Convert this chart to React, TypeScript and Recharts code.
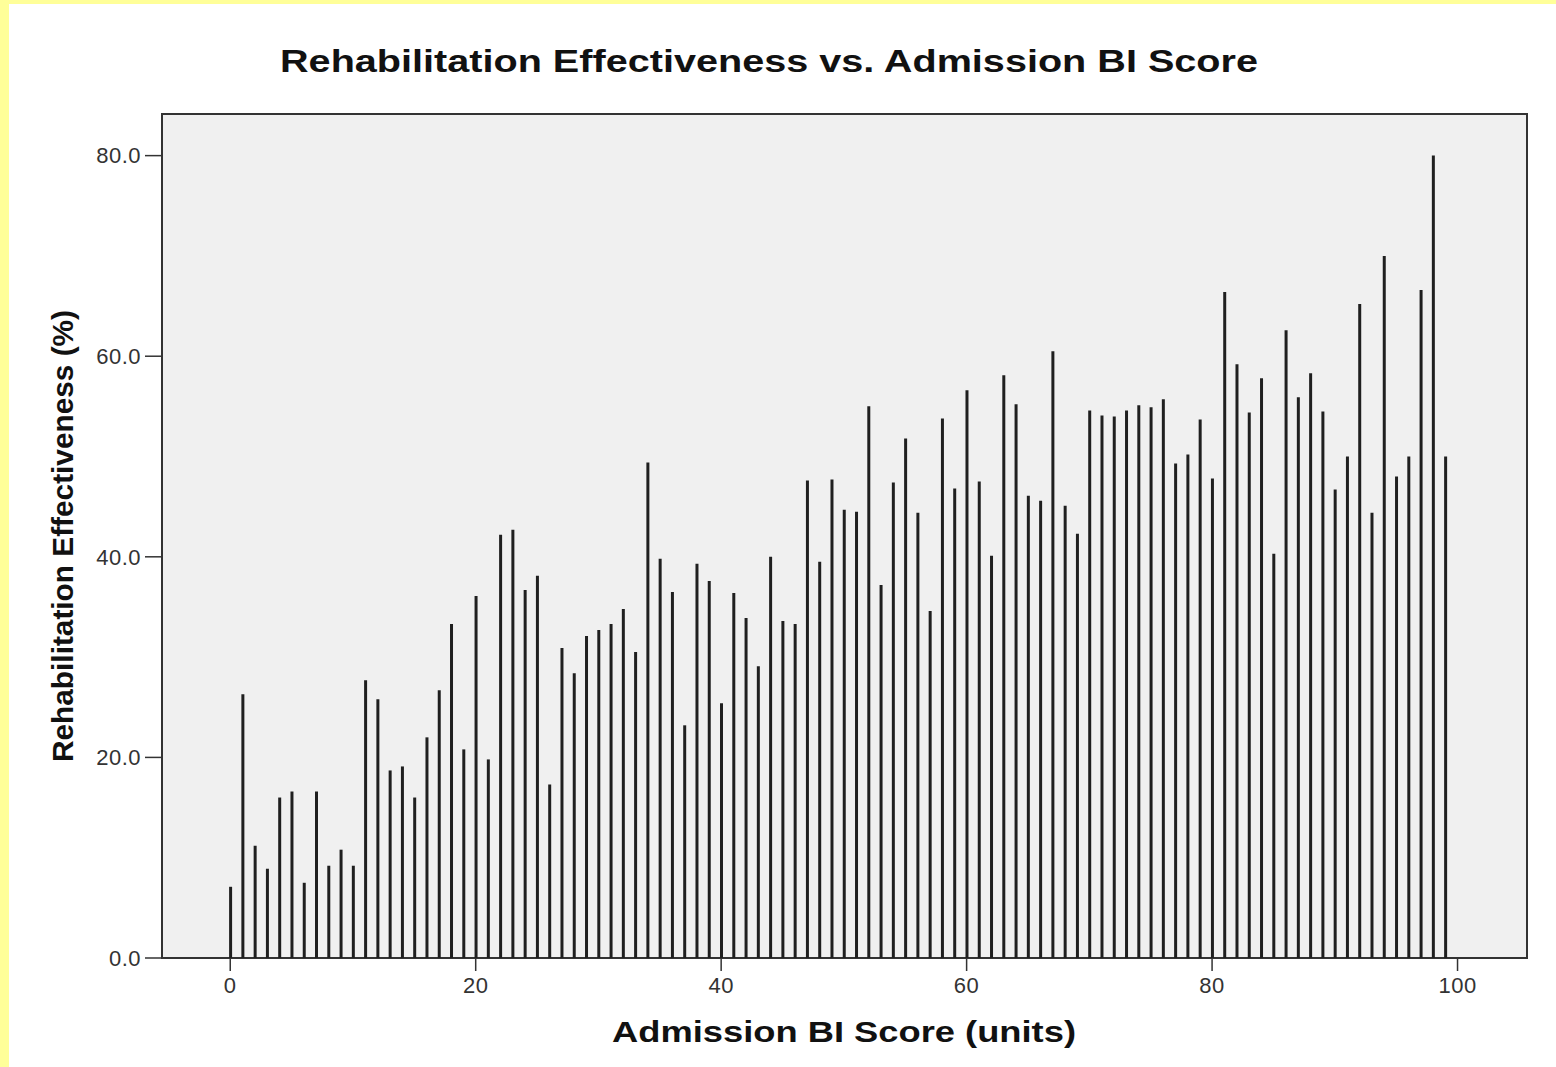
import {
  Bar,
  XAxis,
  YAxis,
  BarChart,
  CartesianGrid,
  ReferenceArea,
} from "recharts";

// admission BI score (x) and rehabilitation effectiveness (%) per score
const scores: number[] = [
  0, 1, 2, 3, 4, 5, 6, 7, 8, 9, 10, 11, 12, 13, 14, 15, 16, 17, 18, 19, 20, 21,
  22, 23, 24, 25, 26, 27, 28, 29, 30, 31, 32, 33, 34, 35, 36, 37, 38, 39, 40,
  41, 42, 43, 44, 45, 46, 47, 48, 49, 50, 51, 52, 53, 54, 55, 56, 57, 58, 59,
  60, 61, 62, 63, 64, 65, 66, 67, 68, 69, 70, 71, 72, 73, 74, 75, 76, 77, 78,
  79, 80, 81, 82, 83, 84, 85, 86, 87, 88, 89, 90, 91, 92, 93, 94, 95, 96, 97,
  98, 99,
];

const effectiveness: number[] = [
  7.1, 26.3, 11.2, 8.9, 16.0, 16.6, 7.5, 16.6, 9.2, 10.8,
  9.2, 27.7, 25.8, 18.7, 19.1, 16.0, 22.0, 26.7, 33.3, 20.8,
  36.1, 19.8, 42.2, 42.7, 36.7, 38.1, 17.3, 30.9, 28.4, 32.1,
  32.7, 33.3, 34.8, 30.5, 49.4, 39.8, 36.5, 23.2, 39.3, 37.6,
  25.4, 36.4, 33.9, 29.1, 40.0, 33.6, 33.3, 47.6, 39.5, 47.7,
  44.7, 44.5, 55.0, 37.2, 47.4, 51.8, 44.4, 34.6, 53.8, 46.8,
  56.6, 47.5, 40.1, 58.1, 55.2, 46.1, 45.6, 60.5, 45.1, 42.3,
  54.6, 54.1, 54.0, 54.6, 55.1, 54.9, 55.7, 49.3, 50.2, 53.7,
  47.8, 66.4, 59.2, 54.4, 57.8, 40.3, 62.6, 55.9, 58.3, 54.5,
  46.7, 50.0, 65.2, 44.4, 70.0, 48.0, 50.0, 66.6, 80.0, 50.0,
];

const xTicks = [0, 20, 40, 60, 80, 100];
const yTicks = [0, 20, 40, 60, 80];

const data = scores.map((s, i) => ({ score: s, value: effectiveness[i] }));

const X_MIN = -5.56;
const X_MAX = 105.66;
const Y_MAX = 84.15;

export default function App() {
  return (
    <div
      style={{
        position: "absolute",
        left: 0,
        top: 0,
        width: 1556,
        height: 1067,
        background: "#ffff99",
        fontFamily: "'Liberation Sans', Arial, sans-serif",
      }}
    >
      <div
        style={{
          position: "absolute",
          left: 9,
          top: 4,
          right: 0,
          bottom: 0,
          background: "#ffffff",
        }}
      />
      <div style={{ position: "absolute", left: 0, top: 0 }}>
        <BarChart
          width={1556}
          height={1067}
          data={data}
          margin={{ top: 114, right: 29, left: 0, bottom: 49 }}
        >
          <CartesianGrid
            fill="#f0f0f0"
            horizontal={false}
            vertical={false}
            stroke="none"
          />
          <XAxis
            dataKey="score"
            type="number"
            domain={[X_MIN, X_MAX]}
            allowDataOverflow
            ticks={xTicks}
            height={60}
            axisLine={false}
            tickLine={{ stroke: "#333", strokeWidth: 1.5 }}
            tickSize={13}
            tickMargin={6}
            tick={{ fill: "#333", fontSize: 22, letterSpacing: 0.5 }}
          />
          <YAxis
            type="number"
            domain={[0, Y_MAX]}
            allowDataOverflow
            ticks={yTicks}
            width={162}
            axisLine={false}
            tickLine={{ stroke: "#333", strokeWidth: 1.5 }}
            tickSize={17}
            tickMargin={4}
            tick={{ fill: "#333", fontSize: 22, letterSpacing: 0.5 }}
            tickFormatter={(v: number) => v.toFixed(1)}
          />
          <Bar
            dataKey="value"
            fill="#1f1f1f"
            barSize={3}
            isAnimationActive={false}
          />
          <ReferenceArea
            x1={X_MIN}
            x2={X_MAX}
            y1={0}
            y2={Y_MAX}
            fill="none"
            stroke="#333"
            strokeWidth={2}
            ifOverflow="visible"
          />
        </BarChart>
      </div>
      <svg
        width={1556}
        height={1067}
        style={{ position: "absolute", left: 0, top: 0, pointerEvents: "none" }}
      >
        <text
          x={769}
          y={72}
          textAnchor="middle"
          fontSize={32}
          fontWeight="bold"
          fill="#111"
          textLength={978}
          lengthAdjust="spacingAndGlyphs"
        >
          Rehabilitation Effectiveness vs. Admission BI Score
        </text>
        <text
          x={844}
          y={1042}
          textAnchor="middle"
          fontSize={30}
          fontWeight="bold"
          fill="#111"
          textLength={464}
          lengthAdjust="spacingAndGlyphs"
        >
          Admission BI Score (units)
        </text>
        <text
          x={0}
          y={0}
          transform="translate(73 536) rotate(-90)"
          textAnchor="middle"
          fontSize={29}
          fontWeight="bold"
          fill="#111"
          textLength={452}
          lengthAdjust="spacingAndGlyphs"
        >
          Rehabilitation Effectiveness (%)
        </text>
      </svg>
    </div>
  );
}
